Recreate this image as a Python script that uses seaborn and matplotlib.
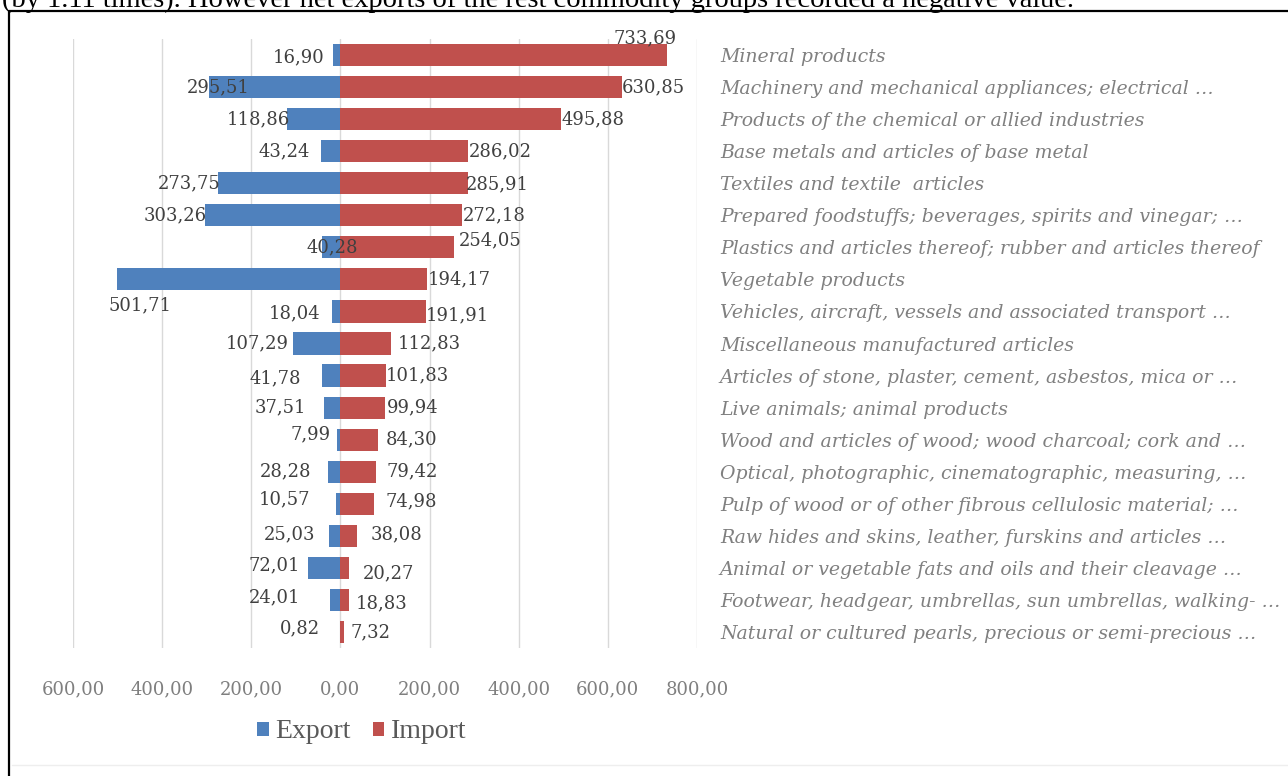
import matplotlib
matplotlib.use("Agg")
import matplotlib.pyplot as plt
from matplotlib.lines import Line2D
from matplotlib.patches import Patch
import seaborn as sns
import pandas as pd

# Commodity groups, top to bottom
categories = [
    "Mineral products",
    "Machinery and mechanical appliances; electrical …",
    "Products of the chemical or allied industries",
    "Base metals and articles of base metal",
    "Textiles and textile  articles",
    "Prepared foodstuffs; beverages, spirits and vinegar; …",
    "Plastics and articles thereof; rubber and articles thereof",
    "Vegetable products",
    "Vehicles, aircraft, vessels and associated transport …",
    "Miscellaneous manufactured articles",
    "Articles of stone, plaster, cement, asbestos, mica or …",
    "Live animals; animal products",
    "Wood and articles of wood; wood charcoal; cork and …",
    "Optical, photographic, cinematographic, measuring, …",
    "Pulp of wood or of other fibrous cellulosic material; …",
    "Raw hides and skins, leather, furskins and articles …",
    "Animal or vegetable fats and oils and their cleavage …",
    "Footwear, headgear, umbrellas, sun umbrellas, walking- …",
    "Natural or cultured pearls, precious or semi-precious …",
]

export_values = [16.90, 295.51, 118.86, 43.24, 273.75, 303.26, 40.28, 501.71, 18.04,
                 107.29, 41.78, 37.51, 7.99, 28.28, 10.57, 25.03, 72.01, 24.01, 0.82]
import_values = [733.69, 630.85, 495.88, 286.02, 285.91, 272.18, 254.05, 194.17, 191.91,
                 112.83, 101.83, 99.94, 84.30, 79.42, 74.98, 38.08, 20.27, 18.83, 7.32]

x_ticks = [-600, -400, -200, 0, 200, 400, 600, 800]
series_names = ["Export", "Import"]
colors = {"Export": "#4F81BD", "Import": "#C0504D"}

# Per-row nudges for the value labels (pixels: dx, dy; dy positive = down)
export_nudge = [(-8, 2), (41, 0), (3, 0), (-11, 0), (2, 0), (1, 0), (36, 0), (55, 26),
                (-12, 2), (-4, 0), (-21, 3), (-18, 0), (-6, -5), (-17, 0), (-25, -4),
                (-14, -1), (-8, -3), (-29, -3), (-20, -4)]
import_nudge = [(-54, -17), (0, 0), (0, 0), (1, 0), (-2, 1), (1, 0), (5, -7), (1, 0),
                (0, 4), (7, 0), (0, 0), (2, 0), (8, 0), (11, 0), (12, -2), (13, -1),
                (13, 5), (7, 3), (7, 0)]

df = pd.DataFrame({
    "category": categories * 2,
    "value": [-v for v in export_values] + list(import_values),
    "flow": ["Export"] * len(categories) + ["Import"] * len(categories),
})

sns.set_theme(style="white")
plt.rcParams["font.family"] = ["DejaVu Serif", "DejaVu Sans"]

W, H = 1288, 776
fig = plt.figure(figsize=(W / 100, H / 100), dpi=100)
fig.patch.set_facecolor("white")

ax = fig.add_axes([73 / W, 1 - 648 / H, 624 / W, 609 / H])
sns.barplot(data=df, x="value", y="category", hue="flow", order=categories,
            hue_order=series_names, palette=colors, dodge=False, width=0.69,
            orient="h", ax=ax, legend=False, saturation=1, linewidth=0)

ax.set_xlim(-600, 800)
ax.set_ylim(len(categories) - 0.5, -0.5)
ax.set_xticks(x_ticks)
ax.set_xticklabels([f"{abs(t):.2f}".replace(".", ",") for t in x_ticks])
ax.set_xlabel("")
ax.set_ylabel("")
ax.grid(axis="x", color="#d9d9d9", linewidth=1)
ax.grid(axis="y", visible=False)
ax.set_axisbelow(True)
for s in ax.spines.values():
    s.set_visible(False)

ax.yaxis.tick_right()
ax.tick_params(axis="y", length=0, pad=16.5, labelsize=13.6, labelcolor="#808080")
ax.tick_params(axis="x", length=0, pad=23, labelsize=13, labelcolor="#7f7f7f")
for lbl in ax.get_yticklabels():
    lbl.set_fontstyle("italic")
    lbl.set_ha("left")

def fmt(v):
    return f"{v:.2f}".replace(".", ",")

for i, (e, im) in enumerate(zip(export_values, import_values)):
    dx, dy = export_nudge[i]
    ax.annotate(fmt(e), xy=(-e, i), xytext=(dx, -dy), textcoords="offset pixels",
                ha="right", va="center", fontsize=13, color="#404040",
                family="DejaVu Serif")
    dx, dy = import_nudge[i]
    ax.annotate(fmt(im), xy=(im, i), xytext=(dx, -dy), textcoords="offset pixels",
                ha="left", va="center", fontsize=13, color="#404040",
                family="DejaVu Serif")

handles = [Patch(facecolor=colors[n], edgecolor="none") for n in series_names]
fig.legend(handles, series_names, loc="center", bbox_to_anchor=(362 / W, 1 - 732 / H),
           ncol=2, frameon=False, prop={"family": "Liberation Serif", "size": 20},
           handlelength=0.4, handleheight=0.4, handletextpad=0.25, columnspacing=0.8,
           labelcolor="#595959")

# Page text running above the chart frame
fig.text(2 / W, 1 - 7 / H,
         "(by 1.11 times). However net exports of the rest commodity groups recorded a negative value.",
         ha="left", va="baseline", fontsize=20.5, family="Liberation Serif", color="black")

# Frame around the chart
fig.add_artist(Line2D([9 / W, 1], [1 - 11 / H, 1 - 11 / H], transform=fig.transFigure,
                      color="black", linewidth=1.6))
fig.add_artist(Line2D([9 / W, 9 / W], [0, 1 - 11 / H], transform=fig.transFigure,
                      color="black", linewidth=1.6))
fig.add_artist(Line2D([12 / W, 1], [1 - 765 / H, 1 - 765 / H], transform=fig.transFigure,
                      color="#eeeeee", linewidth=1))

fig.savefig("out.png", dpi=100, facecolor="white")
